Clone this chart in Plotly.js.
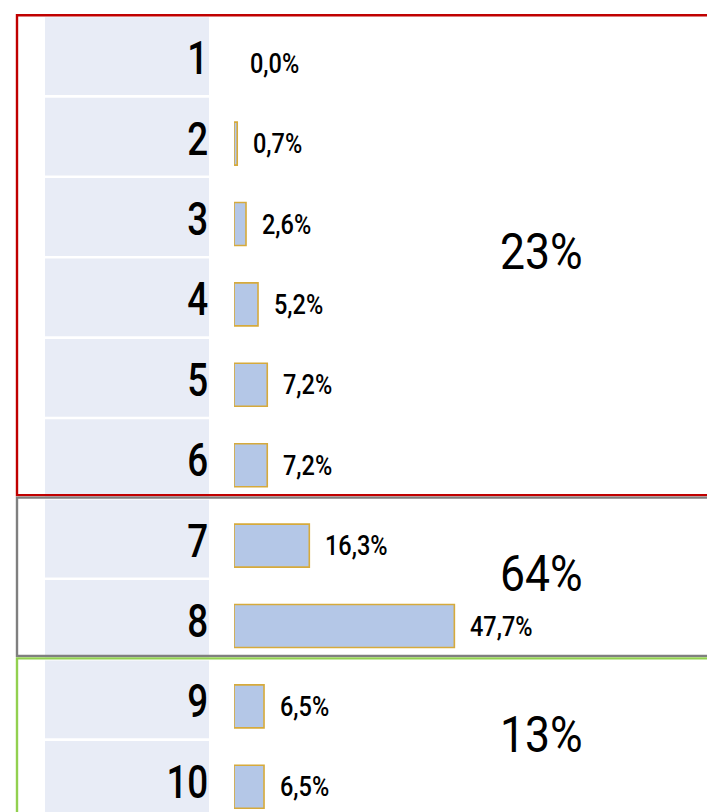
<!DOCTYPE html>
<html>
<head>
<meta charset="utf-8">
<script src="https://cdn.plot.ly/plotly-3.0.1.min.js"></script>
<style>html,body{margin:0;padding:0;background:#fff;}#chart{width:707px;height:812px;}</style>
</head>
<body>
<div id="chart"></div>
<script>
const categories = [1, 2, 3, 4, 5, 6, 7, 8, 9, 10];
const values = [0.0, 0.7, 2.6, 5.2, 7.2, 7.2, 16.3, 47.7, 6.5, 6.5];
const groupLabels = ['23%', '64%', '13%'];
const groupStart = [1, 7, 9];
const groupEnd = [6, 8, 10];
const groupColors = ['#c00000', '#7f7f7f', '#92d050'];

const FONT = 'Roboto, Liberation Sans, sans-serif';
const W = 707, H = 812;
const M = {l: 234, r: 0, t: 16, b: 0};
const plotW = W - M.l - M.r, plotH = H - M.t - M.b;
const rowPx = 80.4;
const yTop = 0.5, yBot = 0.5 + plotH / rowPx;
const xMax = plotW / 4.62;

const pxX = px => (px - M.l) / plotW;
const yP = v => (yBot - v) / (yBot - yTop);
const off = px => px / rowPx;

const shapes = [];
categories.forEach(c => {
  shapes.push({type: 'rect', xref: 'paper', yref: 'paper', layer: 'below',
    x0: pxX(45), x1: pxX(209), y0: yP(c - 0.5 + off(1.3)), y1: yP(c + 0.5 - off(1.3)),
    fillcolor: '#e8ecf6', line: {width: 0}});
});
groupStart.forEach((s, i) => {
  shapes.push({type: 'rect', xref: 'paper', yref: 'paper', layer: 'above',
    x0: pxX(17), x1: 1.05, y0: yP(s - 0.5 - off(0.8)), y1: yP(groupEnd[i] + 0.5 - off(3.3)),
    fillcolor: 'rgba(0,0,0,0)', line: {color: groupColors[i], width: 2.4}});
});

const annotations = [];
const squeeze = [];
categories.forEach(c => {
  annotations.push({x: pxX(210), y: c, xref: 'paper', yref: 'y', xanchor: 'right', yanchor: 'middle',
    yshift: -2, showarrow: false, text: String(c),
    font: {family: FONT, size: 46, weight: 500, color: '#000'}});
  squeeze.push(['right center', 0.8]);
});
values.forEach((v, i) => {
  annotations.push({x: v, y: categories[i], xref: 'x', yref: 'y', xanchor: 'left', yanchor: 'middle',
    xshift: 14, yshift: -7.5, showarrow: false, text: v.toFixed(1).replace('.', ',') + '%',
    font: {family: FONT, size: 27, weight: 500, color: '#000'}});
  squeeze.push(['left center', 0.87]);
});
groupLabels.forEach((t, i) => {
  annotations.push({x: 66.6, y: (groupStart[i] + groupEnd[i]) / 2, xref: 'x', yref: 'y',
    xanchor: 'center', yanchor: 'middle', yshift: 5, showarrow: false, text: t,
    font: {family: FONT, size: 50, weight: 400, color: '#000'}});
  squeeze.push(['center center', 0.89]);
});

const barWidth = 0.535;
const trace = {
  type: 'bar', orientation: 'h', x: values, y: categories, width: barWidth,
  offset: -barWidth / 2 + off(7),
  marker: {color: '#b4c7e7', line: {color: '#d6aa3c', width: values.map(v => v > 0 ? 1.6 : 0)}},
  hoverinfo: 'none', cliponaxis: false
};

const layout = {
  width: W, height: H, margin: M, showlegend: false,
  paper_bgcolor: '#fff', plot_bgcolor: 'rgba(0,0,0,0)',
  xaxis: {range: [0, xMax], visible: false, fixedrange: true},
  yaxis: {range: [yBot, yTop], showticklabels: false, showgrid: false, zeroline: false,
    showline: false, ticks: ''},
  shapes: shapes, annotations: annotations
};

Plotly.newPlot('chart', [trace], layout, {staticPlot: true, displayModeBar: false}).then(() => {
  document.querySelectorAll('#chart .annotation').forEach(g => {
    const idx = +g.getAttribute('data-index');
    const t = g.querySelector('text.annotation-text');
    if (!t || !squeeze[idx]) return;
    t.style.transformBox = 'fill-box';
    t.style.transformOrigin = squeeze[idx][0];
    t.style.transform = 'scaleX(' + squeeze[idx][1] + ')';
  });
});
</script>
</body>
</html>
